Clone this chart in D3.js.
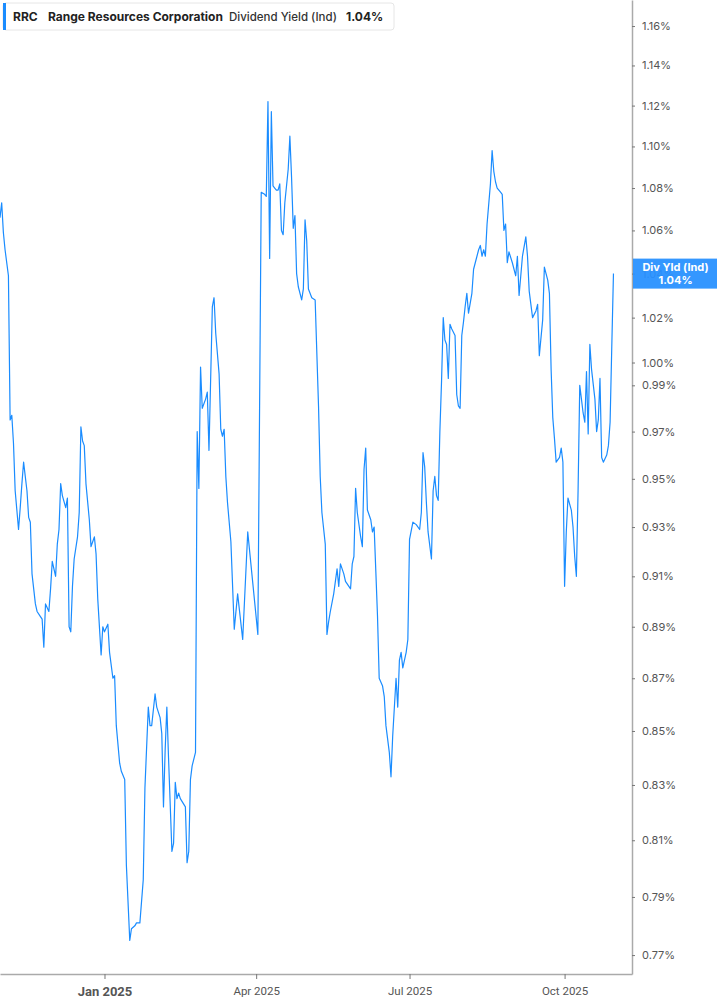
<!DOCTYPE html>
<html>
<head>
<meta charset="utf-8">
<script src="https://cdn.jsdelivr.net/npm/d3@7"></script>
<style>
  body { margin: 0; background: #fff; }
  svg { display: block; font-family: Inter, "Noto Sans", sans-serif; }
</style>
</head>
<body>
<svg id="chart"></svg>
<script>
// 标题文字
const ticker = "RRC";
const company = "Range Resources Corporation";
const metric = "Dividend Yield (Ind)";
const badgeLabel = "Div Yld (Ind)";

// 日期
const dates = [
  "2024-10-31","2024-11-01","2024-11-02","2024-11-03","2024-11-05","2024-11-06","2024-11-07","2024-11-08","2024-11-09",
  "2024-11-11","2024-11-12","2024-11-13","2024-11-14","2024-11-16","2024-11-17","2024-11-18","2024-11-19","2024-11-21",
  "2024-11-22","2024-11-24","2024-11-25","2024-11-26","2024-11-27","2024-11-29","2024-11-30","2024-12-01","2024-12-03",
  "2024-12-04","2024-12-05","2024-12-06","2024-12-07","2024-12-09","2024-12-10","2024-12-11","2024-12-12","2024-12-13",
  "2024-12-14","2024-12-16","2024-12-17","2024-12-18","2024-12-19","2024-12-20","2024-12-21","2024-12-23","2024-12-24",
  "2024-12-25","2024-12-26","2024-12-27","2024-12-28","2024-12-30","2024-12-31",
  "2025-01-01","2025-01-03","2025-01-04","2025-01-06","2025-01-07","2025-01-08","2025-01-10","2025-01-11","2025-01-13",
  "2025-01-14","2025-01-16","2025-01-17","2025-01-19","2025-01-20","2025-01-22","2025-01-24","2025-01-25","2025-01-27",
  "2025-01-28","2025-01-29","2025-01-31","2025-02-01","2025-02-03","2025-02-04","2025-02-05","2025-02-06","2025-02-07",
  "2025-02-08","2025-02-10","2025-02-11","2025-02-12","2025-02-13","2025-02-14","2025-02-15","2025-02-17","2025-02-18",
  "2025-02-19","2025-02-20","2025-02-21","2025-02-22","2025-02-24","2025-02-25","2025-02-26","2025-02-27","2025-02-28",
  "2025-03-02","2025-03-03","2025-03-04","2025-03-06","2025-03-07","2025-03-08","2025-03-10","2025-03-11","2025-03-12",
  "2025-03-13","2025-03-14","2025-03-15","2025-03-17","2025-03-19","2025-03-21","2025-03-24","2025-03-27","2025-04-02",
  "2025-04-04","2025-04-06","2025-04-07","2025-04-08","2025-04-09","2025-04-10","2025-04-11","2025-04-12","2025-04-13",
  "2025-04-14","2025-04-15","2025-04-16","2025-04-17","2025-04-18","2025-04-20","2025-04-21","2025-04-22","2025-04-23",
  "2025-04-24","2025-04-25","2025-04-26","2025-04-28","2025-04-29","2025-04-30","2025-05-01","2025-05-02","2025-05-04",
  "2025-05-06","2025-05-07","2025-05-08","2025-05-09","2025-05-10","2025-05-12","2025-05-13","2025-05-14","2025-05-15",
  "2025-05-17","2025-05-19","2025-05-20","2025-05-21","2025-05-23","2025-05-24","2025-05-26","2025-05-27","2025-05-28",
  "2025-05-29","2025-05-30","2025-05-31","2025-06-02","2025-06-03","2025-06-04","2025-06-05","2025-06-06","2025-06-08",
  "2025-06-09","2025-06-10","2025-06-11","2025-06-12","2025-06-13","2025-06-15","2025-06-16","2025-06-17","2025-06-19",
  "2025-06-20","2025-06-21","2025-06-23","2025-06-24","2025-06-25","2025-06-26","2025-06-27","2025-06-29","2025-06-30",
  "2025-07-01","2025-07-03","2025-07-05","2025-07-07","2025-07-08","2025-07-09","2025-07-10","2025-07-11","2025-07-12",
  "2025-07-14","2025-07-15","2025-07-16","2025-07-17","2025-07-18","2025-07-19","2025-07-20","2025-07-21","2025-07-22",
  "2025-07-23","2025-07-24","2025-07-25","2025-07-26","2025-07-28","2025-07-29","2025-07-30","2025-07-31","2025-08-01",
  "2025-08-02","2025-08-03","2025-08-04","2025-08-05","2025-08-07","2025-08-08","2025-08-10","2025-08-11","2025-08-12",
  "2025-08-13","2025-08-14","2025-08-15","2025-08-16","2025-08-18","2025-08-19","2025-08-20","2025-08-21","2025-08-22",
  "2025-08-24","2025-08-25","2025-08-26","2025-08-27","2025-08-28","2025-08-29","2025-08-31","2025-09-02","2025-09-03",
  "2025-09-04","2025-09-06","2025-09-08","2025-09-09","2025-09-10","2025-09-12","2025-09-14","2025-09-15","2025-09-16",
  "2025-09-18","2025-09-19","2025-09-21","2025-09-22","2025-09-23","2025-09-24","2025-09-25","2025-09-26","2025-09-28",
  "2025-09-29","2025-09-30","2025-10-01","2025-10-02","2025-10-03","2025-10-05","2025-10-06","2025-10-07","2025-10-08",
  "2025-10-09","2025-10-10","2025-10-11","2025-10-12","2025-10-13","2025-10-14","2025-10-15","2025-10-16","2025-10-17",
  "2025-10-19","2025-10-20","2025-10-21","2025-10-22","2025-10-23","2025-10-24","2025-10-26","2025-10-27","2025-10-28",
  "2025-10-29","2025-10-30"
];

// 股息率 (%)
const yields = [
  1.066,1.073,1.059,1.051,1.039,0.975,0.977,0.965,0.945,
  0.929,0.938,0.948,0.957,0.945,0.934,0.932,0.911,0.899,
  0.896,0.894,0.893,0.882,0.899,0.896,0.905,0.916,0.910,
  0.923,0.929,0.948,0.943,0.938,0.942,0.890,0.888,0.906,
  0.917,0.926,0.936,0.972,0.966,0.964,0.948,0.933,0.922,
  0.924,0.926,0.919,0.901,0.879,0.890,
  0.888,0.891,0.880,0.870,0.871,0.852,0.838,0.835,0.832,
  0.801,0.775,0.779,0.780,0.781,0.781,0.796,0.829,0.859,
  0.852,0.852,0.864,0.859,0.855,0.849,0.822,0.843,0.859,
  0.840,0.806,0.809,0.831,0.825,0.827,0.825,0.823,0.822,
  0.802,0.806,0.832,0.837,0.842,0.970,0.946,0.998,0.980,
  0.984,0.987,0.962,1.025,1.029,1.013,0.995,0.971,0.968,
  0.971,0.951,0.940,0.924,0.889,0.903,0.885,0.928,0.887,
  1.078,1.077,1.076,1.122,1.047,1.117,1.081,1.080,1.079,
  1.079,1.082,1.060,1.058,1.073,1.089,1.105,1.085,1.061,
  1.067,1.040,1.034,1.028,1.033,1.065,1.055,1.033,1.029,
  1.028,1.004,0.981,0.951,0.936,0.923,0.887,0.892,0.896,
  0.903,0.913,0.906,0.915,0.911,0.908,0.906,0.905,0.915,
  0.918,0.946,0.936,0.926,0.922,0.954,0.963,0.937,0.933,
  0.928,0.930,0.912,0.894,0.870,0.867,0.863,0.852,0.842,
  0.833,0.848,0.870,0.859,0.877,0.880,0.874,0.880,0.885,
  0.925,0.932,0.931,0.929,0.936,0.961,0.955,0.940,0.928,
  0.917,0.945,0.951,0.943,0.941,0.970,0.992,1.020,1.010,
  1.008,0.993,1.017,1.015,1.012,0.986,0.981,0.980,1.012,
  1.018,1.025,1.031,1.022,1.031,1.042,1.048,1.051,1.053,
  1.048,1.051,1.048,1.063,1.082,1.098,1.088,1.083,1.080,
  1.078,1.077,1.060,1.063,1.045,1.050,1.045,1.039,1.048,
  1.030,1.048,1.057,1.048,1.032,1.020,1.023,1.026,1.003,
  1.019,1.043,1.037,1.031,0.997,0.976,0.967,0.957,0.959,
  0.963,0.957,0.906,0.928,0.942,0.937,0.930,0.918,0.910,
  0.945,0.990,0.984,0.978,0.974,0.996,0.969,1.008,0.997,
  0.984,0.970,0.975,0.993,0.959,0.957,0.960,0.964,0.974,
  1.007,1.040
];

// 坐标轴刻度
const yTicks = [1.16, 1.14, 1.12, 1.10, 1.08, 1.06, 1.04, 1.02, 1.00, 0.99, 0.97,
  0.95, 0.93, 0.91, 0.89, 0.87, 0.85, 0.83, 0.81, 0.79, 0.77];
const xTicks = ["2025-01-01", "2025-04-01", "2025-07-01", "2025-10-01"];
const xTickLabels = ["Jan 2025", "Apr 2025", "Jul 2025", "Oct 2025"];

const width = 717, height = 1005;
const plotW = 632, plotH = 974;
const lineColor = "#1a8cff";

const parse = d3.timeParse("%Y-%m-%d");
const data = dates.map((d, i) => ({ date: parse(d), value: yields[i] }));
const last = data[data.length - 1];

const svg = d3.select("#chart")
  .attr("width", width)
  .attr("height", height);

// 比例尺：时间 + 对数
const x = d3.scaleTime()
  .domain([parse("2024-10-31"), parse("2025-11-10")])
  .range([0, plotW]);

const y = d3.scaleLog()
  .domain([0.7636, 1.1734])
  .range([plotH, 0]);

// 折线
svg.append("clipPath").attr("id", "clip")
  .append("rect").attr("width", plotW).attr("height", plotH);

svg.append("path")
  .datum(data)
  .attr("clip-path", "url(#clip)")
  .attr("fill", "none")
  .attr("stroke", lineColor)
  .attr("stroke-width", 1.2)
  .attr("stroke-linejoin", "round")
  .attr("d", d3.line().x(d => x(d.date)).y(d => y(d.value)));

// 右侧 y 轴
const yAxis = svg.append("g")
  .attr("transform", `translate(${plotW},0)`)
  .call(d3.axisRight(y)
    .tickValues(yTicks)
    .tickFormat(d => d.toFixed(2) + "%")
    .tickSize(3)
    .tickSizeOuter(0)
    .tickPadding(7));
yAxis.select(".domain").attr("stroke", "#aaa").attr("stroke-width", 1.5);
yAxis.selectAll(".tick line").attr("stroke", "#777");
yAxis.selectAll(".tick text")
  .attr("fill", "#555")
  .style("font-size", "11px")
  .style("font-family", "Inter, sans-serif");

// 底部 x 轴
const xAxis = svg.append("g")
  .attr("transform", `translate(0,${plotH})`)
  .call(d3.axisBottom(x)
    .tickValues(xTicks.map(parse))
    .tickFormat((d, i) => xTickLabels[i])
    .tickSize(5)
    .tickSizeOuter(0)
    .tickPadding(8));
xAxis.select(".domain").attr("stroke", "#aaa").attr("stroke-width", 1.5);
xAxis.selectAll(".tick line").attr("stroke", "#777");
xAxis.selectAll(".tick text")
  .attr("fill", "#555")
  .style("font-family", "Roboto, sans-serif")
  .style("font-size", (d, i) => i === 0 ? "13px" : "11.5px")
  .style("font-weight", (d, i) => i === 0 ? "bold" : "normal");

// 最新值标签
const badgeY = y(last.value);
const badge = svg.append("g").attr("transform", `translate(${plotW + 1},${badgeY - 15})`);
badge.append("rect")
  .attr("width", width - plotW - 1)
  .attr("height", 30)
  .attr("fill", "#2790ff")
  .attr("fill-opacity", 0.94);
badge.append("text")
  .attr("x", (width - plotW) / 2)
  .attr("y", 12)
  .attr("text-anchor", "middle")
  .attr("fill", "#fff")
  .style("font-size", "11px")
  .style("font-weight", "bold")
  .text(badgeLabel);
badge.append("text")
  .attr("x", (width - plotW) / 2)
  .attr("y", 25)
  .attr("text-anchor", "middle")
  .attr("fill", "#fff")
  .style("font-size", "11px")
  .style("font-weight", "bold")
  .text(last.value.toFixed(2) + "%");

// 图例框
const legend = svg.append("g").attr("transform", "translate(3,3)");
legend.append("rect")
  .attr("width", 391)
  .attr("height", 27)
  .attr("rx", 3)
  .attr("fill", "#fff")
  .attr("stroke", "#e6e6e6");
legend.append("rect")
  .attr("width", 3)
  .attr("height", 27)
  .attr("fill", lineColor);

const legendItems = [
  { text: ticker, x: 10, size: 12, weight: 700, color: "#222" },
  { text: company, x: 45, size: 12, weight: 700, color: "#222" },
  { text: metric, x: 226, size: 11.5, weight: 500, color: "#333" },
  { text: last.value.toFixed(2) + "%", x: 343, size: 12, weight: 700, color: "#222" }
];
legend.selectAll("text.item")
  .data(legendItems)
  .enter()
  .append("text")
  .attr("class", "item")
  .attr("x", d => d.x)
  .attr("y", 18)
  .attr("fill", d => d.color)
  .style("font-size", d => d.size + "px")
  .style("font-weight", d => d.weight)
  .text(d => d.text);
</script>
</body>
</html>
